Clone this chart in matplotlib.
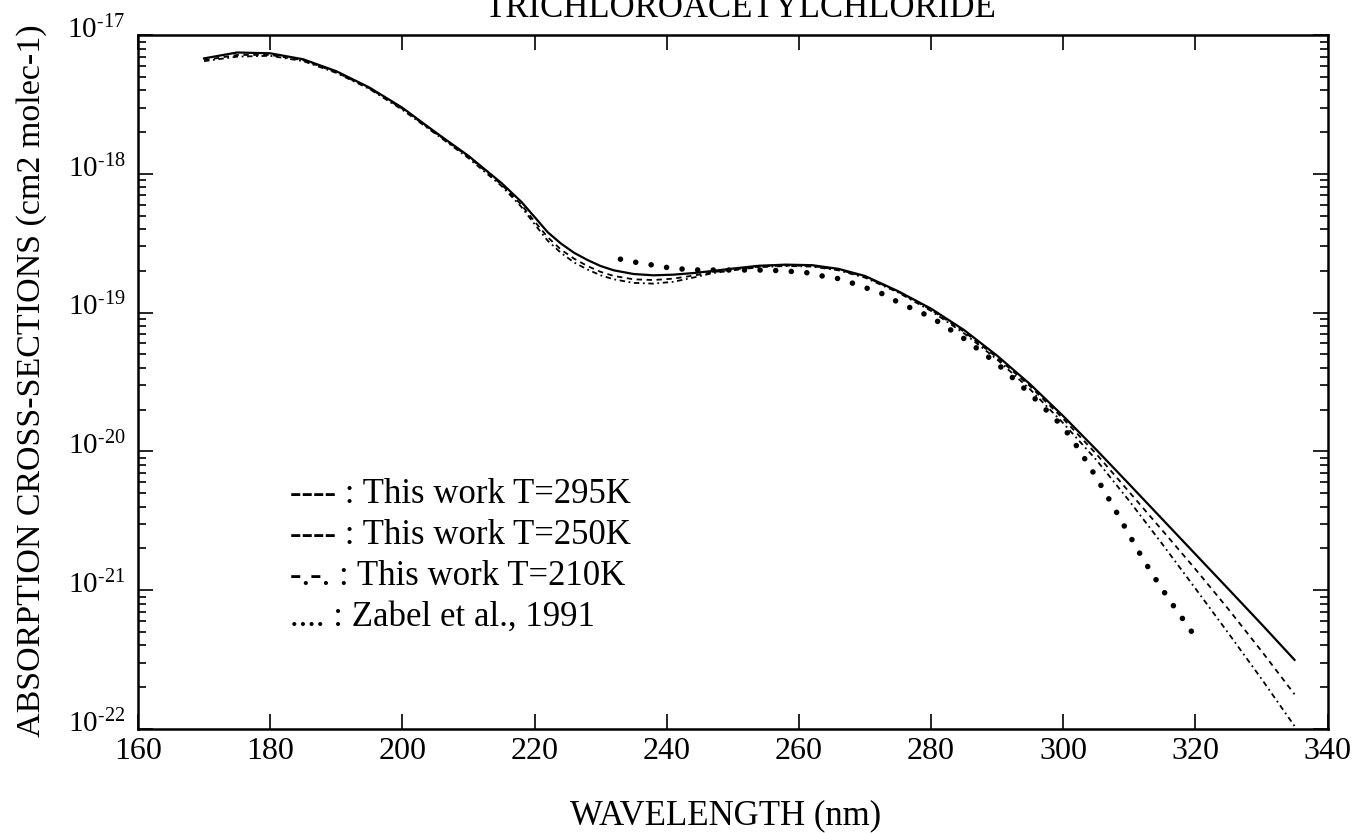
import math
import matplotlib.pyplot as plt
from matplotlib.ticker import LogLocator, NullFormatter, FuncFormatter
from matplotlib.transforms import ScaledTranslation

plt.rcParams['font.family'] = ['Liberation Serif', 'DejaVu Serif']
plt.rcParams['mathtext.fontset'] = 'stix'

# Wavelength grid (nm) for this work
wavelength = [170, 175, 180, 185, 190, 195, 200, 205, 210, 215, 218, 220, 222, 224,
              226, 228, 230, 232, 235, 238, 241, 244, 247, 250, 254, 258, 262, 266,
              270, 275, 280, 285, 290, 295, 300, 305, 310, 315, 320, 325, 330, 335]

# Cross-sections (cm2 molec-1)
sigma_295 = [6.8e-18, 7.5e-18, 7.4e-18, 6.7e-18, 5.5e-18, 4.2e-18, 3.0e-18, 2.0e-18,
             1.35e-18, 8.6e-19, 6.3e-19, 4.9e-19, 3.8e-19, 3.15e-19, 2.7e-19, 2.4e-19,
             2.17e-19, 2.02e-19, 1.9e-19, 1.86e-19, 1.88e-19, 1.93e-19, 2.0e-19,
             2.08e-19, 2.18e-19, 2.22e-19, 2.2e-19, 2.07e-19, 1.84e-19, 1.43e-19,
             1.07e-19, 7.5e-20, 4.9e-20, 3.05e-20, 1.8e-20, 1.03e-20, 5.8e-21,
             3.25e-21, 1.82e-21, 1.02e-21, 5.7e-22, 3.15e-22]

sigma_250 = [6.6e-18, 7.2e-18, 7.2e-18, 6.6e-18, 5.4e-18, 4.15e-18, 2.95e-18, 1.97e-18,
             1.33e-18, 8.4e-19, 6.0e-19, 4.55e-19, 3.5e-19, 2.85e-19, 2.45e-19, 2.17e-19,
             1.97e-19, 1.84e-19, 1.74e-19, 1.72e-19, 1.76e-19, 1.85e-19, 1.96e-19,
             2.04e-19, 2.15e-19, 2.19e-19, 2.17e-19, 2.04e-19, 1.82e-19, 1.42e-19,
             1.05e-19, 7.3e-20, 4.75e-20, 2.95e-20, 1.72e-20, 9.6e-21, 5.1e-21,
             2.7e-21, 1.42e-21, 7.3e-22, 3.65e-22, 1.78e-22]

sigma_210 = [6.5e-18, 7.0e-18, 7.1e-18, 6.5e-18, 5.35e-18, 4.1e-18, 2.9e-18, 1.95e-18,
             1.3e-18, 8.2e-19, 5.8e-19, 4.35e-19, 3.3e-19, 2.7e-19, 2.3e-19, 2.05e-19,
             1.86e-19, 1.74e-19, 1.64e-19, 1.62e-19, 1.67e-19, 1.79e-19, 1.93e-19,
             2.02e-19, 2.13e-19, 2.17e-19, 2.15e-19, 2.02e-19, 1.79e-19, 1.4e-19,
             1.03e-19, 7.1e-20, 4.6e-20, 2.8e-20, 1.6e-20, 8.7e-21, 4.4e-21,
             2.15e-21, 1.03e-21, 4.9e-22, 2.3e-22, 1.05e-22]

# Zabel et al., 1991
zabel_wl = [233, 235.5, 238, 240, 242.5, 245, 250, 254, 257, 259, 261, 264, 266, 268,
            270.5, 273, 275, 280, 285, 290, 295, 300, 302, 304, 306, 308, 310, 312,
            314, 316, 318, 320]
zabel_sigma = [2.43e-19, 2.3e-19, 2.2e-19, 2.12e-19, 2.06e-19, 2.03e-19, 2.03e-19,
               2.03e-19, 2.01e-19, 1.98e-19, 1.95e-19, 1.82e-19, 1.76e-19, 1.64e-19,
               1.49e-19, 1.35e-19, 1.19e-19, 9.3e-20, 6.5e-20, 4.3e-20, 2.6e-20,
               1.5e-20, 1.1e-20, 7.8e-21, 5.4e-21, 3.7e-21, 2.5e-21, 1.7e-21,
               1.2e-21, 8.6e-22, 6.3e-22, 4.6e-22]

x_ticks = [160, 180, 200, 220, 240, 260, 280, 300, 320, 340]
y_ticks = [1e-22, 1e-21, 1e-20, 1e-19, 1e-18, 1e-17]

legend_lines = ["---- : This work T=295K",
                "---- : This work T=250K",
                "-.-. : This work T=210K",
                ".... : Zabel et al., 1991"]


def decade_label(v, pos):
    # plain hyphen in the exponent, like the typed original
    return r'$\mathregular{10^{\text{-}%d}}$' % abs(round(math.log10(v)))


fig = plt.figure(figsize=(13.58, 8.33), dpi=100)
ax = fig.add_axes([0.1016, 0.1248, 0.876, 0.833])

ax.plot(wavelength, sigma_295, color='black', lw=1.6, ls='-')
ax.plot(wavelength, sigma_250, color='black', lw=1.3, ls=(0, (3, 2.5)))
ax.plot(wavelength, sigma_210, color='black', lw=1.3, ls=(0, (3, 2, 1, 2)))
ax.plot(zabel_wl, zabel_sigma, color='black', lw=4.0, ls=(0, (0.01, 2.8)),
        dash_capstyle='round')

ax.set_yscale('log')
ax.set_xlim(160, 340)
ax.set_ylim(1e-22, 1e-17)
ax.set_xticks(x_ticks)
ax.set_yticks(y_ticks)
ax.yaxis.set_minor_locator(LogLocator(base=10, subs=range(2, 10), numticks=50))
ax.yaxis.set_minor_formatter(NullFormatter())
ax.yaxis.set_major_formatter(FuncFormatter(decade_label))

ax.tick_params(which='both', direction='in', top=True, right=True, width=1.2)
ax.tick_params(axis='x', which='major', length=11, labelsize=23, pad=6)
ax.tick_params(axis='y', which='major', length=11, labelsize=21, pad=9)
ax.tick_params(which='minor', length=6)
for s in ax.spines.values():
    s.set_linewidth(1.8)

# y labels sit a little above their tick, as in the original
shift = ScaledTranslation(0, 6 / 72, fig.dpi_scale_trans)
for lab in ax.get_yticklabels():
    lab.set_transform(lab.get_transform() + shift)

for i, txt in enumerate(legend_lines):
    ax.text(0.128, 0.338 - i * 0.059, txt, transform=ax.transAxes, fontsize=25,
            va='center', ha='left')

fig.text(0.023, 0.543, "ABSORPTION CROSS-SECTIONS (cm2 molec-1)", fontsize=24.5,
         rotation=90, ha='center', va='center')
fig.text(0.534, 9 / 833, "WAVELENGTH (nm)", fontsize=25, ha='center', va='baseline')
fig.text(0.545, 1 - 17 / 833, "TRICHLOROACETYLCHLORIDE", fontsize=25,
         ha='center', va='baseline')

fig.savefig('out.png', dpi=100)
